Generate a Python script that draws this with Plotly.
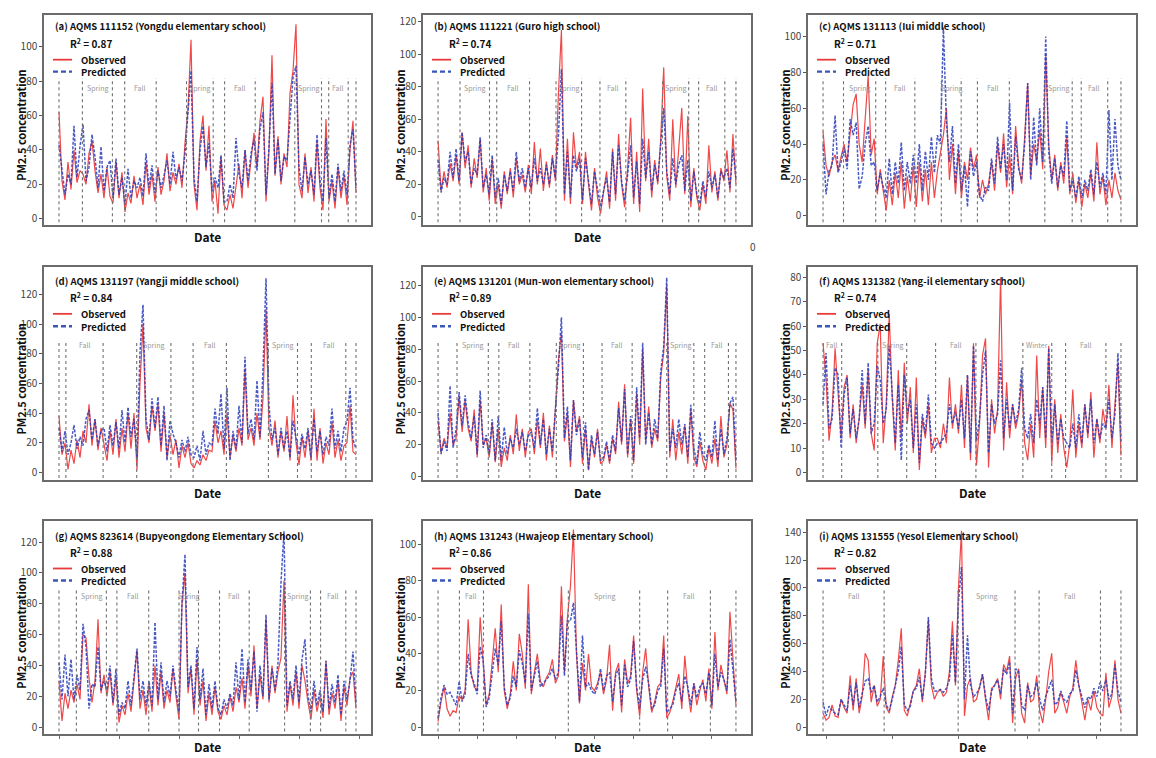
import plotly.graph_objects as go

# values; index = sample number along each station record
A_OBS = [62, 22, 11, 33, 17, 40, 21, 28,
         26, 20, 38, 45, 28, 15, 26, 12, 30, 13,
         9, 33, 12, 27,
         4, 15, 9, 25, 12, 20, 8, 33, 14, 26, 10,
         30, 14, 22, 38, 16, 27, 20, 32, 18, 44,
         64, 104, 20, 5, 45, 60, 28, 54, 10,
         22, 3, 36, 8,
         5, 14, 6, 20, 32, 12, 40, 18, 34, 50,
         30, 57, 71, 10, 40, 95, 25, 48, 20, 38, 30, 73, 86, 113,
         20, 12, 38, 15, 30, 10, 45, 18,
         5, 58, 10,
         22, 6, 30, 12, 25, 8,
         40, 57, 15]
A_PRED = [43, 30, 14, 26, 20, 54, 24, 42,
          55, 22, 30, 49, 36, 18, 42, 16, 30, 34,
          12, 35, 14, 24,
          8, 29, 12, 22, 18, 24, 13, 38, 18, 31, 15,
          28, 18, 25, 34, 20, 39, 23, 30, 22, 38,
          62, 86, 24, 10, 40, 54, 30, 44, 16,
          24, 18, 37, 10,
          10, 20, 12, 47, 26, 18, 40, 22, 38, 46,
          28, 52, 62, 14, 42, 79, 26, 46, 22, 36, 34, 58, 82, 89,
          30, 16, 36, 20, 28, 14, 49, 22,
          10, 47, 12,
          26, 10, 32, 16, 28, 14,
          43, 52, 18]
A_BOUNDS = [0, 7.8, 17.8, 21.9, 32.4, 42.5, 51.4, 55.2, 65.4, 78.6, 87.5, 89.9, 96.4, 99]
A_SEASONS = ["", "Spring", "", "Fall", "", "Spring", "", "Fall", "", "Spring", "", "Fall", ""]

B_OBS = [47, 16, 28, 18, 33, 22, 38, 20,
         52, 30, 44, 18, 36, 24, 48, 15, 30, 10,
         36, 8,
         20, 5, 28, 14, 30, 12, 36, 20, 26, 15, 32,
         14, 46, 20, 42, 16, 34, 18, 38, 22,
         76, 115, 10, 48, 8, 52, 30, 40,
         8, 40, 20, 4, 30, 12,
         2, 14, 28, 5, 42, 10, 51, 20, 6,
         30, 61, 8, 40, 3, 79, 22, 48, 12, 35, 20, 48,
         92, 25, 10, 60, 18, 40, 67, 14, 62,
         6, 30, 12,
         4, 20, 8, 44, 15, 28, 10, 30, 22,
         41, 15, 51, 20]
B_PRED = [35, 15, 24, 20, 40, 24, 42, 22,
          52, 34, 40, 20, 30, 26, 49, 18, 26, 14,
          38, 12,
          24, 8, 26, 16, 28, 16, 40, 22, 30, 18, 30,
          18, 36, 22, 30, 20, 32, 20, 36, 24,
          50, 91, 14, 40, 12, 38, 28, 36,
          10, 36, 22, 8, 28, 16,
          6, 16, 24, 9, 40, 14, 44, 22, 10,
          26, 44, 12, 34, 8, 48, 24, 40, 16, 32, 22, 42,
          67, 28, 14, 36, 20, 32, 38, 16, 35,
          10, 28, 14,
          8, 22, 12, 28, 18, 26, 12, 28, 24,
          30, 18, 42, 24]
B_BOUNDS = [0, 7.3, 17.1, 19.5, 30.4, 39.2, 47.7, 53.8, 62.4, 74.6, 83.3, 86.6, 95.3, 99]
B_SEASONS = ["", "Spring", "", "Fall", "", "Spring", "", "Fall", "", "Spring", "", "Fall", ""]

C_OBS = [47, 28, 22, 30, 34, 25, 33,
         40, 30, 48, 62, 68, 40, 30, 55, 78, 34, 43,
         12, 26, 14,
         3, 20, 6, 24, 10, 30, 4, 22, 8, 28,
         5, 30, 8, 26, 6, 30, 10, 25, 35,
         45, 60, 20, 40, 12, 36, 10,
         30, 20, 38, 26, 34,
         10, 20, 12, 18, 30, 14, 40, 24, 46, 16,
         34, 12, 50, 28, 18, 44, 74, 22, 40, 30, 48, 26,
         90, 40, 20, 34, 14, 30, 18, 44, 12,
         24, 7, 20,
         5, 18, 10, 24, 8, 41, 12, 22, 6,
         20, 10, 24, 14, 9]
C_PRED = [40, 12, 25, 28, 56, 24, 30,
          38, 26, 54, 45, 52, 15, 22, 40, 50, 28, 30,
          14, 24, 16,
          10, 32, 12, 30, 18, 41, 14, 30, 18, 34,
          18, 40, 14, 36, 20, 44, 24, 45, 40,
          105, 52, 30, 50, 18, 40, 14,
          28, 5, 36, 22, 30,
          12, 8, 16, 14, 32, 18, 44, 26, 40, 20,
          63, 14, 44, 26, 20, 40, 74, 20, 55, 28, 60, 30,
          100, 36, 18, 32, 16, 28, 22, 53, 14,
          20, 10, 22,
          10, 20, 14, 26, 12, 30, 16, 24, 12,
          59, 20, 54, 28, 20]
C_BOUNDS = [0, 6.8, 17.5, 20.8, 30.5, 39.3, 45.9, 51.3, 61.9, 73.7, 82.8, 85.8, 94.6, 99]
C_SEASONS = ["", "Spring", "", "Fall", "", "Spring", "", "Fall", "", "Spring", "", "Fall", ""]

D_OBS = [38, 12, 20,
         2, 15, 6, 22, 10, 28, 20, 46, 18, 36, 15, 30,
         20, 8, 28, 12, 36, 10, 30, 14, 40, 16, 40,
         2, 60, 100, 30, 20, 45, 28, 46, 14, 40, 10, 25,
         12, 22, 3, 18, 10, 20, 6,
         3, 8, 5, 12, 8, 15, 14, 35, 20, 28, 12,
         40, 10, 25, 14, 30, 18, 70, 22, 30, 18, 40, 22, 50, 110,
         30, 18, 35, 10, 28, 14, 38, 8, 52, 20,
         5, 24, 10, 28, 8,
         43, 8, 30, 6, 20, 12, 34, 10, 22, 8, 18,
         20, 45, 14, 12]
D_PRED = [30, 14, 28,
          12, 20, 32, 16, 24, 18, 36, 42, 22, 36, 18, 28,
          30, 14, 32, 18, 34, 16, 42, 20, 44, 24, 36,
          10, 81, 113, 36, 22, 50, 30, 51, 18, 45, 8, 35,
          26, 20, 10, 22, 14, 24, 12,
          10, 18, 8, 28, 12, 20, 18, 43, 26, 53, 16,
          57, 8, 28, 16, 45, 20, 78, 26, 36, 22, 62, 24, 69, 131,
          45, 22, 30, 12, 30, 16, 28, 10, 35, 24,
          12, 26, 16, 30, 10,
          36, 14, 28, 12, 24, 18, 43, 16, 28, 14, 30,
          34, 57, 22, 16]
D_BOUNDS = [0, 2.3, 14.7, 25.9, 37.3, 44.7, 55.8, 69.8, 79.5, 84.1, 95.6, 99]
D_SEASONS = ["", "Fall", "", "Spring", "", "Fall", "", "Spring", "", "Fall", ""]

E_OBS = [35, 15, 24, 18, 40, 20, 24,
         50, 28, 48, 30, 22, 42, 12, 48, 20, 24,
         12, 34, 9, 30,
         6, 18, 10, 26, 14, 39, 16, 30, 12, 28,
         30, 14, 36, 18, 40, 10, 32, 12, 46,
         73, 90, 22, 40, 6, 48, 28, 38, 8,
         30, 4, 24, 12, 30, 8,
         10, 20, 8, 24, 14, 47, 20, 58, 12, 36,
         8, 52, 20, 80, 22, 44, 18, 30, 22, 62, 78, 120,
         12, 36, 10, 28, 14, 32, 8, 42, 12,
         6, 22, 10,
         4, 18, 8, 24, 6, 38, 12, 20,
         46, 42, 5]
E_PRED = [40, 14, 22, 16, 57, 18, 30,
          53, 32, 51, 34, 24, 38, 14, 54, 18, 26,
          14, 36, 10, 38,
          10, 31, 14, 24, 18, 30, 20, 28, 16, 26,
          28, 18, 43, 20, 36, 14, 30, 16, 40,
          68, 100, 24, 44, 10, 48, 26, 36, 12,
          34, 4, 26, 14, 28, 10,
          12, 22, 10, 26, 16, 43, 22, 55, 14, 38,
          10, 56, 24, 84, 20, 40, 20, 36, 24, 66, 82, 125,
          16, 30, 18, 36, 20, 33, 12, 45, 18,
          8, 28, 14,
          10, 20, 12, 35, 10, 30, 14, 24,
          46, 50, 10]
E_BOUNDS = [0, 6.3, 16.7, 20.2, 30.5, 39.3, 48.3, 54.5, 64.5, 76, 85, 88.6, 96.5, 99]
E_SEASONS = ["", "Spring", "", "Fall", "", "Spring", "", "Fall", "", "Spring", "", "Fall", ""]

F_OBS = [53, 38, 13, 25, 51, 30, 14,
         35, 40, 14, 28, 12, 22, 36, 18, 42, 16, 9, 53,
         61, 12, 28, 65, 30, 9, 42, 14, 45,
         20, 35, 8, 39, 1, 22, 14, 28, 8, 14,
         14, 10, 20, 12, 39, 18, 28, 16, 36, 10, 40, 5, 53,
         3, 20, 48, 55, 2, 30, 16, 26, 80, 9, 37, 14, 28, 18, 24, 38,
         12, 5, 20, 6, 48, 14, 35, 10, 52, 4,
         30, 8, 24, 10,
         2, 12, 34, 6, 20, 10, 28, 14, 33, 6, 22, 12, 26, 18,
         36, 10, 28, 45, 7]
F_PRED = [28, 49, 18, 22, 43, 40, 10,
          32, 39, 16, 26, 14, 22, 42, 20, 45, 16, 20, 44,
          38, 20, 26, 52, 34, 12, 36, 5, 40,
          24, 30, 10, 28, 4, 24, 16, 32, 12, 10,
          12, 12, 14, 16, 28, 20, 25, 18, 30, 14, 40, 8, 52,
          13, 22, 40, 50, 8, 28, 20, 24, 46, 14, 30, 18, 28, 20, 26, 43,
          18, 14, 24, 12, 30, 20, 35, 14, 51, 12,
          28, 12, 22, 14,
          12, 10, 20, 10, 24, 12, 28, 16, 30, 12, 22, 14, 20, 18,
          30, 14, 24, 49, 12]
F_BOUNDS = [0, 6.2, 18.2, 27.8, 37.4, 50.8, 66.4, 76, 80.6, 94, 99]
F_SEASONS = ["Fall", "", "Spring", "", "Fall", "", "Winter", "", "Fall", ""]

G_OBS = [30, 4, 22, 12, 24, 16,
         28, 18, 60, 58, 32, 16, 30, 70, 22, 34,
         20, 36, 14, 32,
         3, 14, 8, 22, 10, 28, 50, 12, 24, 8,
         28, 10, 40, 14, 36, 12, 24, 16, 38, 20, 5,
         80, 100, 22, 38, 8, 44,
         14, 30, 4, 22, 8, 26, 10,
         5, 14, 8, 20, 10, 26, 16, 32, 12, 40,
         20, 53, 12, 34, 18, 70, 16, 40, 22, 36, 45, 95,
         10, 28, 14, 36, 12, 40, 30, 16,
         5, 24, 10, 20,
         6, 43, 8, 22, 12, 30, 4, 26,
         14, 32, 36, 12]
G_PRED = [42, 18, 47, 20, 44, 18,
          34, 24, 67, 52, 12, 28, 26, 52, 24, 30,
          24, 40, 16, 38,
          8, 16, 12, 30, 14, 32, 51, 18, 30, 14,
          30, 14, 68, 18, 42, 16, 30, 20, 40, 24, 10,
          81, 112, 26, 40, 12, 52,
          18, 38, 8, 28, 12, 30, 12,
          8, 18, 12, 22, 14, 42, 18, 51, 16, 44,
          24, 49, 10, 40, 20, 73, 18, 38, 24, 42, 94, 127,
          14, 30, 18, 40, 16, 44, 57, 20,
          10, 30, 14, 24,
          10, 43, 12, 28, 16, 34, 8, 30,
          18, 30, 49, 16]
G_BOUNDS = [0, 5.8, 15.8, 19.3, 29.9, 40, 46.5, 53.5, 63.4, 75.2, 83.8, 87.2, 95.6, 99]
G_SEASONS = ["", "Spring", "", "Fall", "", "Spring", "", "Fall", "", "Spring", "", "Fall", ""]
G_TICKS = [0, 20, 40, 60, 80, 100]

H_OBS = [3, 14, 22, 10, 6, 9, 8, 17,
         15, 20, 59, 30, 22, 20, 60, 37,
         12, 18, 37, 54, 30, 67, 20, 10, 18, 36, 20, 51, 40, 21,
         78, 18, 30, 40, 25, 22, 27, 30, 37, 24, 28, 77, 30, 60,
         77, 108, 40, 13, 35, 20, 40, 22, 20, 24, 30, 18,
         26, 45, 9, 30, 35, 8, 37, 24, 28, 50, 20, 6,
         30, 43, 22, 8, 14, 22, 24, 50, 5,
         8, 14, 22, 29, 10, 39, 20, 8, 24, 12, 20, 26, 14, 32,
         10, 52, 20, 34, 26, 18, 63, 40, 12]
H_PRED = [5, 16, 23, 18, 19, 15, 12, 25,
          14, 18, 40, 28, 24, 18, 44, 36,
          11, 16, 30, 43, 34, 58, 22, 12, 16, 28, 22, 42, 35, 24,
          62, 20, 28, 36, 22, 24, 26, 28, 32, 26, 30, 61, 28, 58,
          58, 68, 42, 14, 50, 22, 24, 20, 18, 22, 32, 20,
          28, 30, 14, 28, 32, 12, 34, 22, 26, 47, 22, 10,
          26, 33, 24, 10, 12, 20, 22, 43, 8,
          10, 12, 20, 24, 14, 28, 22, 12, 24, 16, 22, 24, 18, 30,
          12, 40, 22, 30, 26, 20, 48, 30, 14]
H_BOUNDS = [0, 7.1, 15.1, 43.3, 67, 76.3, 90.5, 99]
H_SEASONS = ["", "Fall", "", "Spring", "", "Fall", ""]
H_TICKS = [0, 13, 26, 39, 52, 65, 78, 91]

I_OBS = [10, 5, 7, 16, 8, 7, 20, 14, 10, 37, 12, 35, 10, 22, 53, 48, 18, 30, 15, 20, 51,
         14, 10, 22, 30, 48, 71, 12, 8, 16, 26, 30, 42, 18, 40, 77, 30, 20, 25, 27, 22, 25, 40, 76, 30,
         100, 141, 8, 30, 35, 18, 20, 30, 38, 20, 5, 28, 30, 35, 20, 45, 40, 51, 3,
         35, 42, 10, 3, 32, 18, 20, 37,
         12, 3, 20, 40, 53, 10, 14, 25, 18, 10, 22, 28, 48, 30, 18, 5, 20, 12, 26, 14, 10,
         8, 39, 14, 22, 48, 20, 10]
I_PRED = [18, 8, 15, 12, 10, 9, 20, 16, 12, 30, 16, 32, 14, 24, 33, 35, 25, 30, 18, 22, 28,
          16, 12, 20, 30, 40, 58, 16, 12, 15, 26, 28, 36, 20, 38, 79, 35, 26, 26, 27, 25, 28, 34, 66, 32,
          90, 115, 20, 66, 30, 22, 24, 28, 38, 22, 12, 26, 30, 34, 24, 42, 38, 47, 10,
          42, 40, 16, 12, 30, 22, 24, 32,
          20, 12, 22, 28, 34, 16, 18, 26, 20, 18, 24, 26, 41, 30, 22, 14, 22, 20, 28, 22, 32,
          26, 34, 20, 24, 45, 26, 18]
I_BOUNDS = [0, 20.3, 44.9, 63.8, 71.8, 92.2, 99]
I_SEASONS = ["Fall", "", "Spring", "", "Fall", ""]
I_TICKS = [1, 23, 45, 68, 91]

PANELS = [
    dict(title='(a) AQMS 111152 (Yongdu elementary school)', r2='0.87', obs=A_OBS, pred=A_PRED,
         bounds=A_BOUNDS, seasons=A_SEASONS, yr=[-3.5, 118.5], dtick=20),
    dict(title='(b) AQMS 111221 (Guro high school)', r2='0.74', obs=B_OBS, pred=B_PRED,
         bounds=B_BOUNDS, seasons=B_SEASONS, yr=[-4.9, 124.3], dtick=20),
    dict(title='(c) AQMS 131113 (Iui middle school)', r2='0.71', obs=C_OBS, pred=C_PRED,
         bounds=C_BOUNDS, seasons=C_SEASONS, yr=[-5, 112], dtick=20, nodate=True),
    dict(title='(d) AQMS 131197 (Yangji middle school)', r2='0.84', obs=D_OBS, pred=D_PRED,
         bounds=D_BOUNDS, seasons=D_SEASONS, yr=[-5.4, 138.8], dtick=20),
    dict(title='(e) AQMS 131201 (Mun-won elementary school)', r2='0.89', obs=E_OBS, pred=E_PRED,
         bounds=E_BOUNDS, seasons=E_SEASONS, yr=[-2.5, 131.9], dtick=20),
    dict(title='(f) AQMS 131382 (Yang-il elementary school)', r2='0.74', obs=F_OBS, pred=F_PRED,
         bounds=F_BOUNDS, seasons=F_SEASONS, yr=[-3.3, 84.5], dtick=10),
    dict(title='(g) AQMS 823614 (Bupyeongdong Elementary School)', r2='0.88', obs=G_OBS, pred=G_PRED,
         bounds=G_BOUNDS, seasons=G_SEASONS, yr=[-4.5, 133.5], dtick=20, xticks=G_TICKS),
    dict(title='(h) AQMS 131243 (Hwajeop Elementary School)', r2='0.86', obs=H_OBS, pred=H_PRED,
         bounds=H_BOUNDS, seasons=H_SEASONS, yr=[-3.8, 112.5], dtick=20, xticks=H_TICKS),
    dict(title='(i) AQMS 131555 (Yesol Elementary School)', r2='0.82', obs=I_OBS, pred=I_PRED,
         bounds=I_BOUNDS, seasons=I_SEASONS, yr=[-5, 147.9], dtick=20, xticks=I_TICKS),
]

W, H = 1156, 758
COLS = [(44, 371), (423, 751), (808, 1136)]
ROWS = [(14, 225), (267, 482), (523, 737)]
LINE_TOP = [0.70, 0.655, 0.68]
LABEL_Y = [0.687, 0.634, 0.65]
TXT_OFF = [(11, 29, 45, 57), (14, 31, 47.5, 60), (15, 31, 47.5, 59.5)]

FONT = 'Noto Sans CJK KR, Noto Sans, sans-serif'
RED = 'rgba(236,40,40,0.85)'
BLUE = 'rgba(40,60,185,0.85)'

fig = go.Figure()
layout = {}
shapes = []
annotations = []

for k, p in enumerate(PANELS):
    r, c = divmod(k, 3)
    xn = 'x' if k == 0 else 'x%d' % (k + 1)
    yn = 'y' if k == 0 else 'y%d' % (k + 1)
    xl, xr = COLS[c]
    yt, yb = ROWS[r]
    pw, ph = xr - xl, yb - yt

    fig.add_trace(go.Scatter(x=list(range(len(p['obs']))), y=p['obs'], mode='lines',
                             line=dict(color=RED, width=1.2), xaxis=xn, yaxis=yn,
                             showlegend=False, name='Observed'))
    fig.add_trace(go.Scatter(x=list(range(len(p['pred']))), y=p['pred'], mode='lines',
                             line=dict(color=BLUE, width=1.5, dash='3px,1.5px'), xaxis=xn, yaxis=yn,
                             showlegend=False, name='Predicted'))

    xt = p.get('xticks')
    layout['xaxis' if k == 0 else 'xaxis%d' % (k + 1)] = dict(
        domain=[xl / W, xr / W], anchor=yn, range=[-5, 104],
        showgrid=False, zeroline=False, showline=True, mirror=True,
        linecolor='#6b6b6b', linewidth=1.5,
        tickvals=xt if xt else [], ticks='outside' if xt else '', ticklen=3,
        tickcolor='#6b6b6b', showticklabels=False)
    layout['yaxis' if k == 0 else 'yaxis%d' % (k + 1)] = dict(
        domain=[1 - yb / H, 1 - yt / H], anchor=xn, range=p['yr'],
        dtick=p['dtick'], tick0=0, showgrid=False, zeroline=False,
        showline=True, mirror=True, linecolor='#6b6b6b', linewidth=1.5,
        ticks='outside', ticklen=3, tickcolor='#555',
        tickfont=dict(size=10, color='#444', family=FONT))

    # season boundaries and labels
    b = p['bounds']
    for xv in b:
        shapes.append(dict(type='line', xref=xn, yref=yn + ' domain', x0=xv, x1=xv,
                           y0=0.012, y1=LINE_TOP[r],
                           line=dict(color='#707070', width=1.1, dash='3px,3px')))
    for i, lab in enumerate(p['seasons']):
        if lab:
            annotations.append(dict(xref=xn, yref=yn + ' domain', x=(b[i] + b[i + 1]) / 2,
                                    y=LABEL_Y[r], text=lab, showarrow=False,
                                    font=dict(size=7, color='#999', family=FONT)))

    t_off, r_off, o_off, p_off = TXT_OFF[r]
    annotations.append(dict(xref=xn + ' domain', yref=yn + ' domain', x=0, y=1,
                            xshift=9, yshift=-t_off, xanchor='left', yanchor='middle',
                            text='<b>%s</b>' % p['title'], showarrow=False,
                            font=dict(size=9.5, color='#111', family=FONT)))
    annotations.append(dict(xref=xn + ' domain', yref=yn + ' domain', x=0, y=1,
                            xshift=24, yshift=-r_off, xanchor='left', yanchor='middle',
                            text='<b>R<sup>2</sup> = %s</b>' % p['r2'], showarrow=False,
                            font=dict(size=10, color='#111', family=FONT)))
    for off, txt, col, dash, wd in [(o_off, 'Observed', '#e83a3a', 'solid', 1.8),
                                    (p_off, 'Predicted', '#3a56b8', '5px,3px', 2.4)]:
        yy = 1 - off / ph
        shapes.append(dict(type='line', xref=xn + ' domain', yref=yn + ' domain',
                           x0=9 / pw, x1=28 / pw, y0=yy, y1=yy,
                           line=dict(color=col, width=wd, dash=dash)))
        annotations.append(dict(xref=xn + ' domain', yref=yn + ' domain', x=0, y=1,
                                xshift=35, yshift=-off, xanchor='left', yanchor='middle',
                                text='<b>%s</b>' % txt, showarrow=False,
                                font=dict(size=9.5, color='#111', family=FONT)))

    annotations.append(dict(xref=xn + ' domain', yref=yn + ' domain', x=0, y=0.5,
                            xshift=-33, yshift=-6, textangle=-90, showarrow=False,
                            text='<b>PM2.5 concentration</b>',
                            font=dict(size=11, color='#111', family=FONT)))
    if not p.get('nodate'):
        annotations.append(dict(xref=xn + ' domain', yref=yn + ' domain', x=0.5, y=0,
                                yshift=-12, yanchor='middle', showarrow=False,
                                text='<b>Date</b>', font=dict(size=12, color='#111', family=FONT)))

annotations.append(dict(xref='paper', yref='paper', x=753 / W, y=1 - 237 / H, showarrow=False,
                        text='0', font=dict(size=10, color='#444', family=FONT)))

fig.update_layout(width=W, height=H, margin=dict(l=0, r=0, t=0, b=0),
                  paper_bgcolor='white', plot_bgcolor='white',
                  shapes=shapes, annotations=annotations, **layout)

# the page's default 8px body margin would push the figure off the window
fig.write_html("out.html", config={'displayModeBar': False},
               post_script="document.body.style.margin='0';")
